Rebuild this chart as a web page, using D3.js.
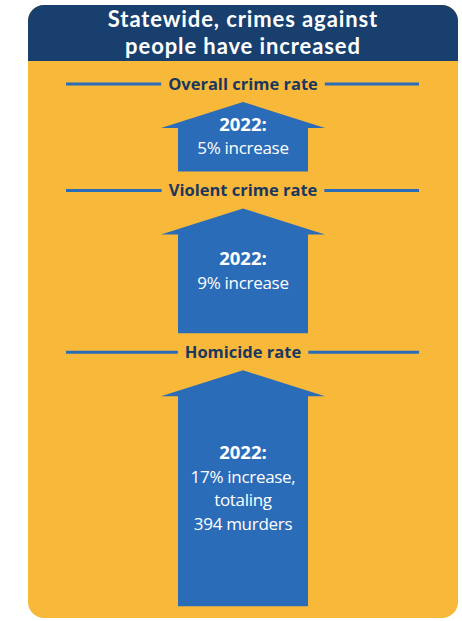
<!DOCTYPE html>
<html>
<head>
<meta charset="utf-8">
<script src="https://cdn.jsdelivr.net/npm/d3@7"></script>
<style>
  html, body { margin: 0; padding: 0; background: #ffffff; }
  svg { display: block; }
</style>
</head>
<body>
<svg id="chart" width="462" height="621"></svg>
<script>
var title = [ "Statewide, crimes against", "people have increased" ];
var categories = [ "Overall crime rate", "Violent crime rate", "Homicide rate" ];
var increases = [ 5, 9, 17 ];
var yearLabel = "2022:";
var notes = [
    [ "5% increase" ],
    [ "9% increase" ],
    [ "17% increase,", "totaling", "394 murders" ]
];

window.addEventListener( "load", makeChart );
function makeChart() {
    var svg = d3.select( "#chart" );
    var cx = 243, font = "'Open Sans', 'DejaVu Sans', sans-serif";

    // card + header
    svg.append( "rect" ).attr( "x", 28 ).attr( "y", 5 )
        .attr( "width", 430 ).attr( "height", 613 ).attr( "rx", 16 )
        .attr( "fill", "#f8b83a" );
    svg.append( "path" )
        .attr( "d", "M28,61 V21 A16,16 0 0 1 44,5 H442 A16,16 0 0 1 458,21 V61 Z" )
        .attr( "fill", "#183f6d" );
    svg.append( "g" ).selectAll( "text" ).data( title ).enter()
        .append( "text" )
        .attr( "x", cx ).attr( "y", (d,i) => 27 + i*26.5 )
        .attr( "text-anchor", "middle" )
        .attr( "font-family", "Lato, 'Open Sans', sans-serif" ).attr( "font-weight", 700 )
        .attr( "font-size", 22 ).attr( "letter-spacing", 0.9 )
        .attr( "fill", "#ffffff" ).text( d => d );

    // arrow height is proportional to the increase
    var scH = d3.scaleLinear().domain( [0, 17] ).range( [0, 236] );
    var headH = 26, headW = 82, shaftW = 65;

    var y = 84;
    categories.forEach( function( cat, i ) {
        var g = svg.append( "g" );

        // section label with rules either side
        var lbl = g.append( "text" ).attr( "x", cx ).attr( "y", y + 5.5 )
            .attr( "text-anchor", "middle" )
            .attr( "font-family", font ).attr( "font-weight", 700 )
            .attr( "font-size", 16.5 )
            .attr( "fill", "#1a375e" ).text( cat );
        var w = lbl.node().getComputedTextLength();
        g.append( "line" ).attr( "x1", 66 ).attr( "x2", cx - w/2 - 7 )
            .attr( "y1", y ).attr( "y2", y )
            .attr( "stroke", "#2b6cb8" ).attr( "stroke-width", 3 );
        g.append( "line" ).attr( "x1", cx + w/2 + 7 ).attr( "x2", 419 )
            .attr( "y1", y ).attr( "y2", y )
            .attr( "stroke", "#2b6cb8" ).attr( "stroke-width", 3 );

        // arrow
        var top = y + 18, h = scH( increases[i] ), bot = top + h;
        var pts = [ [cx, top], [cx + headW, top + headH], [cx + shaftW, top + headH],
                    [cx + shaftW, bot], [cx - shaftW, bot], [cx - shaftW, top + headH],
                    [cx - headW, top + headH] ];
        g.append( "path" ).attr( "d", d3.line()( pts ) + "Z" )
            .attr( "fill", "#2b6cb8" );

        // text inside the arrow
        var lines = [ yearLabel ].concat( notes[i] );
        var lh = 23.5;
        var y0 = top + h/2 + 6 - (lines.length - 1)*lh/2;
        g.selectAll( "text.note" ).data( lines ).enter()
            .append( "text" ).attr( "class", "note" )
            .attr( "x", cx ).attr( "y", (d,k) => y0 + k*lh )
            .attr( "text-anchor", "middle" )
            .attr( "font-family", font )
            .attr( "font-weight", (d,k) => k == 0 ? 700 : 400 )
            .attr( "font-size", (d,k) => k == 0 ? 18.5 : 17 )
            .attr( "letter-spacing", (d,k) => k == 0 ? 0 : -0.3 )
            .attr( "fill", "#ffffff" ).text( d => d );

        y = bot + 19;
    } );
}
</script>
</body>
</html>
